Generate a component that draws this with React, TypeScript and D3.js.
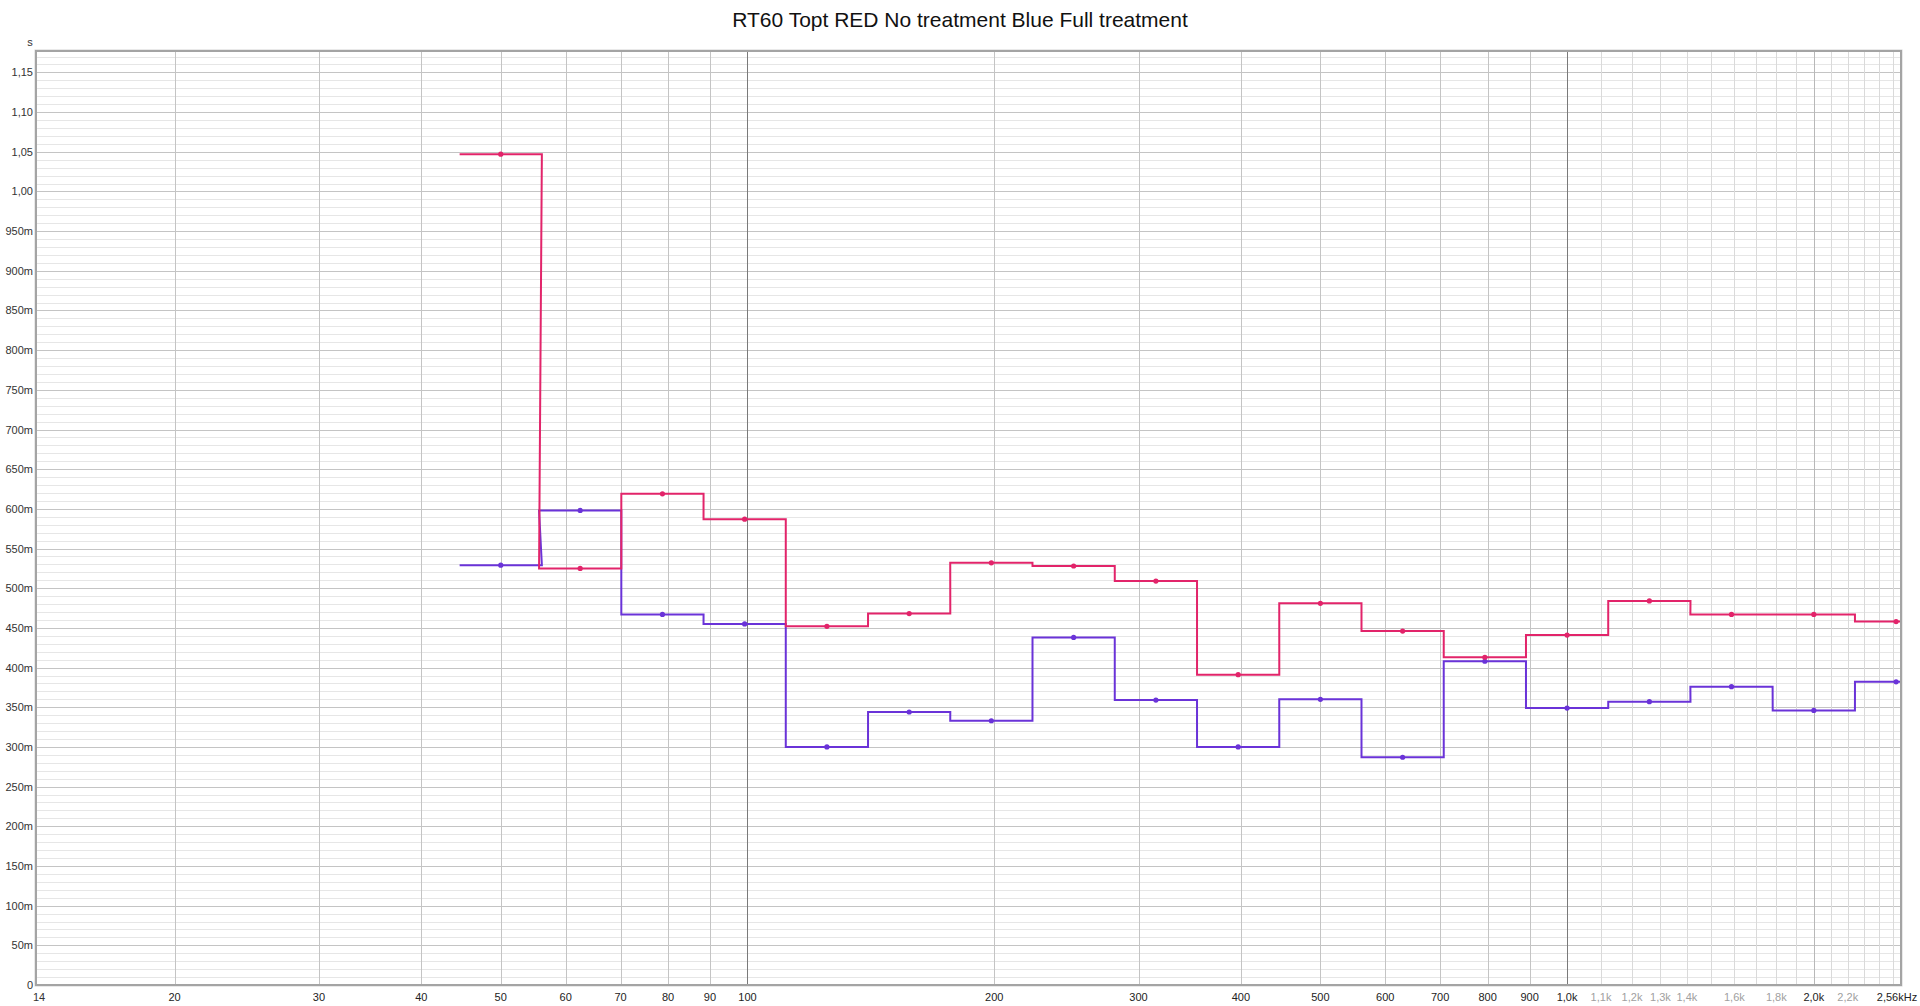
import React from "react";
import * as d3 from "d3";

// 1/3-octave band centres (Hz) as placed on the analyser's axis
const bands = [50, 62.5, 78.75, 99.21, 125, 157.5, 198.4, 250, 315, 396.9, 500, 630, 793.7, 1000, 1260, 1587, 2000, 2520];
// RT60 Topt, seconds
const redNoTreatment = [1.047, 0.525, 0.619, 0.587, 0.452, 0.468, 0.532, 0.528, 0.509, 0.391, 0.481, 0.446, 0.413, 0.441, 0.484, 0.467, 0.467, 0.458];
const blueFullTreatment = [0.529, 0.598, 0.467, 0.455, 0.300, 0.344, 0.333, 0.438, 0.359, 0.300, 0.360, 0.287, 0.408, 0.349, 0.357, 0.376, 0.346, 0.382];

const yTicks = d3.range(0, 1.1501, 0.05);
const yMinorTicks = d3.range(0, 1.1751, 0.01);
const xTickFreqs = [20, 30, 40, 50, 60, 70, 80, 90, 100, 200, 300, 400, 500, 600, 700, 800, 900, 1000, 1100, 1200, 1300, 1400, 1600, 1800, 2000, 2200];
const xTickLabels = ["20", "30", "40", "50", "60", "70", "80", "90", "100", "200", "300", "400", "500", "600", "700", "800", "900", "1,0k", "1,1k", "1,2k", "1,3k", "1,4k", "1,6k", "1,8k", "2,0k", "2,2k"];
const xTickFaint = [1100, 1200, 1300, 1400, 1600, 1800, 2200];
const xGridFreqs = [20, 30, 40, 50, 60, 70, 80, 90, 200, 300, 400, 500, 600, 700, 800, 900];
const xGridFine = [1100, 1200, 1300, 1400, 1500, 1600, 1700, 1800, 1900, 2000, 2100, 2200, 2300, 2400, 2500];
const xGridDark = [100, 1000];

const title = "RT60 Topt RED No treatment Blue Full treatment";
const RED = "#e2246a";
const BLUE = "#6a33d8";

const W = 1920, H = 1006;
const left = 36, right = 1901, top = 51, bottom = 985;

const fmtY = (v: number) => {
  if (v < 1e-9) return "0";
  if (v >= 0.9999) return v.toFixed(2).replace(".", ",");
  return `${Math.round(v * 1000)}m`;
};

export default function App() {
  const x = d3.scaleLog().domain([13.55, 2555]).range([left, right]);
  const y = d3.scaleLinear().domain([0, 1.177]).range([bottom, top]);
  const k = Math.pow(2, 1 / 6);

  const stepPath = (vals: number[]) => {
    const pts: [number, number][] = [];
    bands.forEach((f, i) => {
      pts.push([x(f / k), y(vals[i])]);
      pts.push([x(f * k), y(vals[i])]);
    });
    return d3.line()(pts) as string;
  };

  const font = "'Liberation Sans', Arial, sans-serif";

  return (
    <svg width={W} height={H} style={{ position: "absolute", left: 0, top: 0, display: "block", background: "#fff" }} fontFamily={font}>
      <defs>
        <clipPath id="plot">
          <rect x={left} y={top} width={right - left} height={bottom - top} />
        </clipPath>
      </defs>
      <text x={W / 2} y={27} textAnchor="middle" fontSize={21} fill="#111">{title}</text>

      {/* horizontal grid */}
      {yMinorTicks.map((v, i) => (
        <line key={"ym" + i} x1={left} x2={right} y1={Math.round(y(v)) + 0.5} y2={Math.round(y(v)) + 0.5} stroke="#e6e6e6" strokeWidth={1} />
      ))}
      {yTicks.map((v, i) => (
        <line key={"yM" + i} x1={left} x2={right} y1={Math.round(y(v)) + 0.5} y2={Math.round(y(v)) + 0.5} stroke="#c4c4c4" strokeWidth={1} />
      ))}
      {/* vertical grid */}
      {xGridFine.map((f) => (
        <line key={"xf" + f} x1={Math.round(x(f)) + 0.5} x2={Math.round(x(f)) + 0.5} y1={top} y2={bottom} stroke={f === 2000 ? "#b8b8b8" : "#dadada"} strokeWidth={1} />
      ))}
      {xGridFreqs.map((f) => (
        <line key={"xg" + f} x1={Math.round(x(f)) + 0.5} x2={Math.round(x(f)) + 0.5} y1={top} y2={bottom} stroke="#c4c4c4" strokeWidth={1} />
      ))}
      {xGridDark.map((f) => (
        <line key={"xd" + f} x1={Math.round(x(f)) + 0.5} x2={Math.round(x(f)) + 0.5} y1={top} y2={bottom} stroke="#7a7a7a" strokeWidth={1} />
      ))}

      {/* series */}
      <g clipPath="url(#plot)">
        <path d={stepPath(blueFullTreatment)} fill="none" stroke={BLUE} strokeWidth={2} />
        <path d={stepPath(redNoTreatment)} fill="none" stroke={RED} strokeWidth={2} />
        {bands.map((f, i) => (
          <circle key={"bp" + f} cx={x(f)} cy={y(blueFullTreatment[i])} r={2.6} fill={BLUE} />
        ))}
        {bands.map((f, i) => (
          <circle key={"rp" + f} cx={x(f)} cy={y(redNoTreatment[i])} r={2.6} fill={RED} />
        ))}
      </g>

      {/* frame */}
      <rect x={left - 1} y={top - 1} width={right - left + 2} height={bottom - top + 2} fill="none" stroke="#d4d4d4" strokeWidth={1} />
      <rect x={left} y={top} width={right - left} height={bottom - top} fill="none" stroke="#a4a4a4" strokeWidth={2} />

      {/* y labels */}
      <text x={30} y={46} textAnchor="middle" fontSize={11} fill="#333">s</text>
      {yTicks.map((v, i) => (
        <text key={"yl" + i} x={33} y={y(v) + 4} textAnchor="end" fontSize={11} fill="#333">{fmtY(v)}</text>
      ))}

      {/* x labels */}
      <text x={left + 3} y={1001} textAnchor="middle" fontSize={11} fill="#333">14</text>
      {xTickFreqs.map((f, i) => (
        <text key={"xl" + f} x={x(f)} y={1001} textAnchor="middle" fontSize={11} fill={xTickFaint.includes(f) ? "#a0a0a0" : "#222"}>{xTickLabels[i]}</text>
      ))}
      <text x={1897} y={1001} textAnchor="middle" fontSize={11} fill="#222">2,56kHz</text>
    </svg>
  );
}
